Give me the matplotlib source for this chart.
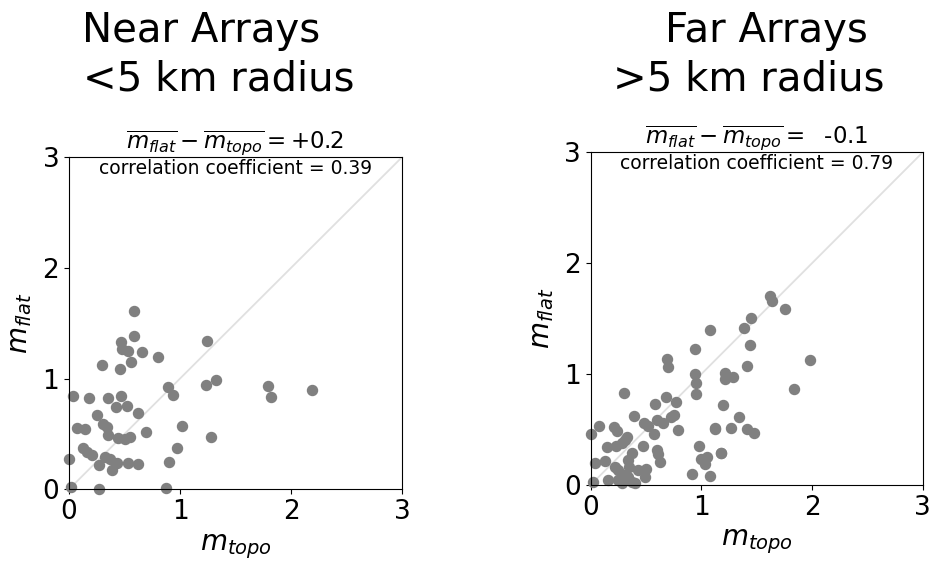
import numpy as np
import matplotlib
matplotlib.use("Agg")
import matplotlib.pyplot as plt

# near arrays (<5 km)
near_topo = [0.585, 0.585, 0.465, 0.48, 0.53, 0.66, 0.80, 0.30, 0.46, 0.56,
             1.24, 1.32, 1.23, 0.89, 0.94, 0.04, 0.18, 0.35, 0.47, 0.42,
             0.52, 0.62, 0.25, 0.31, 0.345, 0.075, 0.14, 0.35, 0.69, 1.02,
             1.28, 0.44, 0.50, 0.55, 0.13, 0.165, 0.21, 0.00, 0.32, 0.37,
             0.27, 0.435, 0.53, 0.62, 0.385, 0.90, 0.97, 0.015, 0.27, 0.87,
             1.79, 1.82, 2.19]
near_flat = [1.61, 1.38, 1.33, 1.27, 1.25, 1.24, 1.19, 1.12, 1.09, 1.15,
             1.34, 0.99, 0.94, 0.92, 0.85, 0.84, 0.82, 0.82, 0.84, 0.74,
             0.75, 0.69, 0.67, 0.585, 0.56, 0.55, 0.54, 0.49, 0.52, 0.57,
             0.47, 0.46, 0.45, 0.47, 0.37, 0.34, 0.31, 0.27, 0.29, 0.27,
             0.22, 0.24, 0.24, 0.225, 0.17, 0.25, 0.37, 0.02, 0.0, 0.015,
             0.93, 0.835, 0.895]

# far arrays (>5 km)
far_topo = [1.075, 0.94, 0.69, 0.70, 0.94, 0.95, 0.95, 0.30, 0.68, 0.77,
            0.58, 1.20, 0.39, 0.48, 0.52, 0.60, 0.65, 0.73, 0.75, 0.79,
            1.12, 0.08, 0.21, 0.24, 0.005, 0.33, 0.57, 0.15, 0.23, 0.28,
            0.31, 0.475, 0.37, 0.60, 0.61, 0.63, 0.98, 1.00, 1.05, 1.03,
            1.18, 0.036, 0.13, 0.34, 0.35, 0.22, 0.245, 0.43, 0.50, 0.49,
            0.29, 0.34, 0.37, 0.16, 0.25, 0.02, 0.28, 0.40, 0.92, 1.075,
            1.617, 1.635, 1.76, 1.45, 1.39, 1.44, 1.985, 1.41, 1.21, 1.21,
            1.285, 1.84, 1.34, 1.127, 1.27, 1.415, 1.48, 1.175]
far_flat = [1.40, 1.23, 1.14, 1.06, 1.00, 0.92, 0.82, 0.83, 0.79, 0.75,
            0.73, 0.72, 0.62, 0.56, 0.53, 0.59, 0.56, 0.61, 0.63, 0.50,
            0.51, 0.535, 0.52, 0.49, 0.46, 0.43, 0.46, 0.34, 0.35, 0.38,
            0.41, 0.35, 0.29, 0.32, 0.28, 0.21, 0.355, 0.235, 0.25, 0.19,
            0.29, 0.20, 0.22, 0.226, 0.165, 0.165, 0.135, 0.135, 0.14, 0.075,
            0.09, 0.075, 0.03, 0.045, 0.045, 0.03, 0.015, 0.015, 0.10, 0.08,
            1.70, 1.655, 1.59, 1.51, 1.42, 1.265, 1.126, 1.075, 1.01, 0.96,
            0.97, 0.87, 0.61, 0.506, 0.51, 0.506, 0.467, 0.29]

mean_diff = ['+0.2', '  -0.1']
corr = [0.39, 0.79]
titles = [['Near Arrays', '<5 km radius'], ['Far Arrays', '>5 km radius']]

fig = plt.figure(figsize=(9.33, 5.63), dpi=100)
ax1 = fig.add_axes([0.074, 0.131, 0.357, 0.590])
ax2 = fig.add_axes([0.633, 0.1385, 0.356, 0.591])

datasets = [(near_topo, near_flat), (far_topo, far_flat)]
for i, ax in enumerate([ax1, ax2]):
    x, y = datasets[i]
    # 1:1 reference line
    ax.plot([0, 3], [0, 3], color='#e0e0e0', lw=1.3, zorder=1)
    ax.scatter(x, y, s=52, color='#808080', zorder=2, clip_on=False)
    ax.set_xlim(0, 3)
    ax.set_ylim(0, 3)
    ax.set_xticks([0, 1, 2, 3])
    ax.set_yticks([0, 1, 2, 3])
    ax.tick_params(labelsize=19)
    ax.set_xlabel('$m_{topo}$', fontsize=20, labelpad=5)
    ax.set_ylabel('$m_{flat}$', fontsize=20, labelpad=6)
    ax.set_title(r'$\overline{m_{flat}}-\overline{m_{topo}}=$' + mean_diff[i],
                 fontsize=16.5, pad=4)
    ax.text(0.5, 0.995, 'correlation coefficient = %.2f' % corr[i],
            transform=ax.transAxes, ha='center', va='top', fontsize=13.5)

# big panel headings
fig.text(0.216, 0.925, titles[0][0], ha='center', va='baseline', fontsize=29)
fig.text(0.2347, 0.840, titles[0][1], ha='center', va='baseline', fontsize=29)
fig.text(0.8215, 0.925, titles[1][0], ha='center', va='baseline', fontsize=29)
fig.text(0.803, 0.840, titles[1][1], ha='center', va='baseline', fontsize=29)

fig.savefig('out.png', dpi=100)
